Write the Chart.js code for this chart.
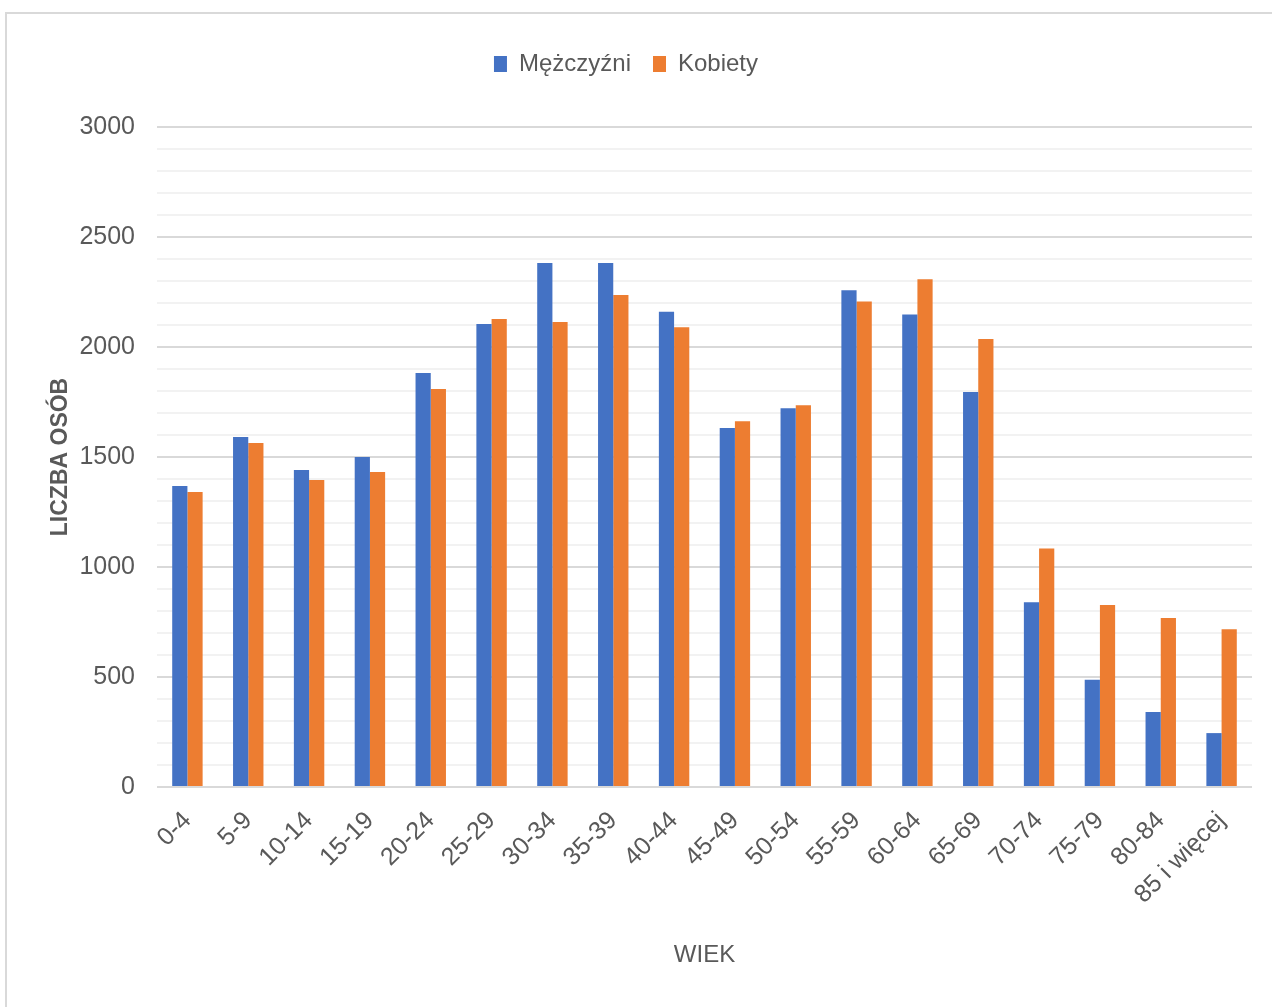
<!DOCTYPE html>
<html lang="pl">
<head>
    <meta charset="UTF-8">
    <title>Liczba osób według wieku</title>
    <script src="https://cdn.jsdelivr.net/npm/chart.js@4.4.1/dist/chart.umd.min.js"></script>
    <style>
        html, body { margin: 0; padding: 0; background: #fff; }
        #ramka {
            position: absolute; left: 5px; top: 12px; width: 1400px; height: 1100px;
            border-left: 2px solid #d9d9d9; border-top: 2px solid #d9d9d9;
        }
        #pole { position: absolute; left: 0; top: 0; width: 1272px; height: 1007px; }
    </style>
</head>
<body>
    <div id="ramka"></div>
    <div id="pole"><canvas id="wykres"></canvas></div>

    <script>
    // dane
    var wiek = ['0-4', '5-9', '10-14', '15-19', '20-24', '25-29', '30-34', '35-39', '40-44',
                '45-49', '50-54', '55-59', '60-64', '65-69', '70-74', '75-79', '80-84', '85 i więcej'];
    var mezczyzni = [1368, 1591, 1441, 1500, 1882, 2105, 2382, 2382, 2160,
                     1632, 1722, 2258, 2148, 1795, 840, 487, 341, 245];
    var kobiety = [1341, 1564, 1395, 1432, 1809, 2127, 2114, 2236, 2090,
                   1663, 1735, 2207, 2308, 2036, 1084, 827, 768, 717];
    var etykietyOsiY = [0, 500, 1000, 1500, 2000, 2500, 3000];

    var szary = '#595959';
    var czcionka = "'Liberation Sans', 'Open Sans', sans-serif";

    // dodatkowe miejsce pod legendą
    var odstepLegendy = {
      id: 'odstepLegendy',
      beforeInit: function(chart) {
        var fit = chart.legend.fit;
        chart.legend.fit = function() {
          fit.bind(chart.legend)();
          this.height += 41;
        };
      }
    };

    const ctx = document.getElementById('wykres');
    new Chart(ctx, {
      type: 'bar',
      data: {
        labels: wiek,
        datasets: [{
          label: 'Mężczyźni',
          data: mezczyzni,
          backgroundColor: '#4472C4',
          categoryPercentage: 0.5,
          barPercentage: 1.0
        }, {
          label: 'Kobiety',
          data: kobiety,
          backgroundColor: '#ED7D31',
          categoryPercentage: 0.5,
          barPercentage: 1.0
        }]
      },
      options: {
        responsive: true,
        maintainAspectRatio: false,
        animation: false,
        layout: { padding: { top: 30, right: 20, left: 0, bottom: 0 } },
        plugins: {
          tooltip: { enabled: false },
          legend: {
            position: 'top',
            labels: {
              boxWidth: 13,
              boxHeight: 16,
              padding: 22,
              color: szary,
              font: { family: czcionka, size: 24 }
            }
          }
        },
        scales: {
          x: {
            grid: { display: false },
            border: { display: false },
            ticks: {
              minRotation: 45,
              maxRotation: 45,
              autoSkip: false,
              padding: 11,
              color: szary,
              font: { family: czcionka, size: 25 }
            },
            title: {
              display: true,
              text: 'WIEK',
              color: szary,
              padding: { top: 0, bottom: 37 },
              font: { family: czcionka, size: 24 }
            },
            afterFit: function(scale) { scale.height = 220; }
          },
          y: {
            min: 0,
            max: 3000,
            border: { display: false },
            grid: {
              drawTicks: false,
              lineWidth: 2,
              color: function(c) {
                return c.tick && c.tick.value % 500 === 0 ? '#d9d9d9' : '#f2f2f2';
              }
            },
            ticks: {
              stepSize: 100,
              autoSkip: false,
              padding: 22,
              color: szary,
              font: { family: czcionka, size: 25 },
              callback: function(v) {
                return etykietyOsiY.indexOf(v) >= 0 ? v : '';
              }
            },
            title: {
              display: true,
              text: 'LICZBA OSÓB',
              color: szary,
              padding: { top: 47, bottom: 0 },
              font: { family: czcionka, size: 23, weight: 'bold' }
            },
            afterFit: function(scale) { scale.width = 157; }
          }
        }
      },
      plugins: [odstepLegendy]
    });
    </script>
</body>
</html>
